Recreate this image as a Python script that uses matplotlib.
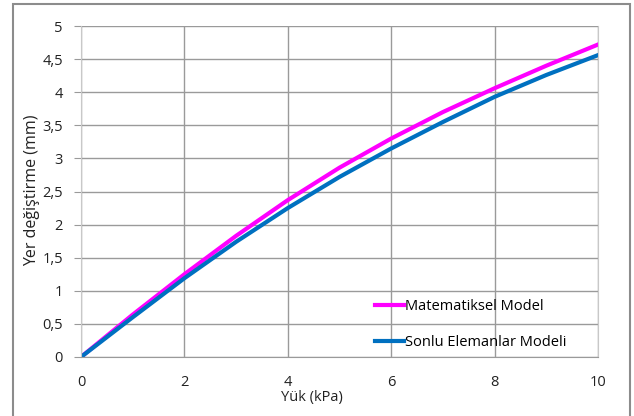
import matplotlib
matplotlib.use("Agg")
import matplotlib.pyplot as plt
from matplotlib.patches import Rectangle

plt.rcParams['font.family'] = ['Open Sans', 'DejaVu Sans']

yuk = [0, 1, 2, 3, 4, 5, 6, 7, 8, 9, 10]
matematiksel = [0, 0.64, 1.25, 1.83, 2.37, 2.86, 3.30, 3.70, 4.06, 4.40, 4.72]
sonlu = [0, 0.60, 1.19, 1.74, 2.25, 2.72, 3.15, 3.55, 3.93, 4.26, 4.56]
y_ticks = [0, 0.5, 1, 1.5, 2, 2.5, 3, 3.5, 4, 4.5, 5]
y_tick_labels = ['0', '0,5', '1', '1,5', '2', '2,5', '3', '3,5', '4', '4,5', '5']
x_ticks = [0, 2, 4, 6, 8, 10]

fig = plt.figure(figsize=(6.34, 4.16), dpi=100)
ax = fig.add_axes([81 / 634, 1 - 357 / 416, (598 - 81) / 634, (357 - 26) / 416])

# outer frame
fig.patches.append(Rectangle((13 / 634, -0.05), (630 - 13) / 634, 1.05 - 4 / 416,
                             transform=fig.transFigure, fill=False,
                             edgecolor='#8c8c8c', linewidth=1.5))

ax.plot(yuk, matematiksel, color='#ff00ff', linewidth=3, solid_joinstyle='round',
        label='Matematiksel Model')
ax.plot(yuk, sonlu, color='#0070c0', linewidth=3, solid_joinstyle='round',
        label='Sonlu Elemanlar Modeli')

ax.set_xlim(0, 10)
ax.set_ylim(0, 5)
ax.set_xticks(x_ticks)
ax.set_yticks(y_ticks)
ax.set_yticklabels(y_tick_labels)
ax.grid(True, color='#9a9a9a', linewidth=1)
ax.set_axisbelow(True)

ax.spines['top'].set_visible(False)
ax.spines['left'].set_color('#c8c8c8')
ax.spines['right'].set_color('#c8c8c8')
ax.spines['bottom'].set_color('#9a9a9a')
ax.tick_params(axis='y', length=5, color='#9a9a9a', pad=8, labelsize=10.5, labelcolor='#222222')
ax.tick_params(axis='x', length=0, pad=13, labelsize=10.5, labelcolor='#222222')

fig.text(312 / 634, 1 - 398 / 416, 'Yük (kPa)', ha='center', va='center',
         fontsize=10.5, color='#222222')
fig.text(32 / 634, 1 - 190 / 416, 'Yer değiştirme (mm)', ha='center', va='center',
         rotation=90, fontsize=11.5, color='#222222')

leg = ax.legend(loc='lower right', bbox_to_anchor=(0.965, -0.02), frameon=False,
                fontsize=10.5, handlelength=2.0, handletextpad=0.1,
                labelspacing=1.45)

fig.savefig('out.png', dpi=100)
